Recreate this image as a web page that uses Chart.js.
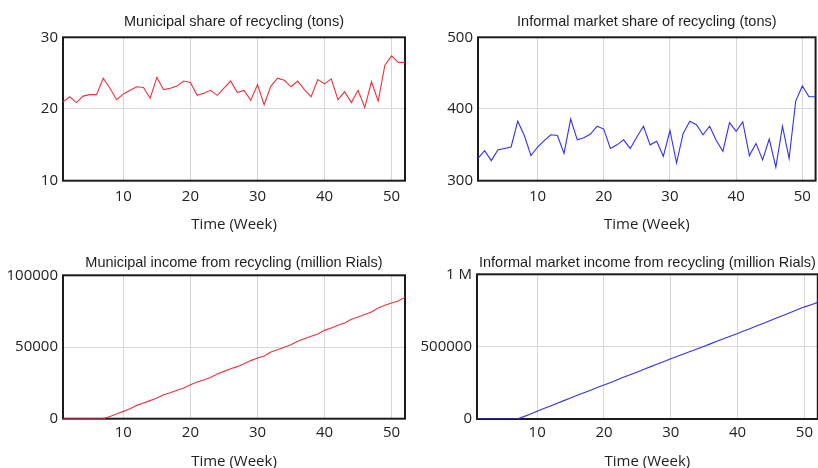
<!DOCTYPE html>
<html>
<head>
<meta charset="utf-8">
<script src="https://cdn.jsdelivr.net/npm/chart.js@4.4.1/dist/chart.umd.min.js"></script>
<style>
html, body { margin: 0; padding: 0; background: #fff; overflow: hidden; width: 818px; height: 468px; }
.panel { position: absolute; }
</style>
</head>
<body>
<script>
const weeks = [1, 2, 3, 4, 5, 6, 7, 8, 9, 10, 11, 12, 13, 14, 15, 16, 17, 18, 19, 20,
    21, 22, 23, 24, 25, 26, 27, 28, 29, 30, 31, 32, 33, 34, 35, 36, 37, 38, 39, 40,
    41, 42, 43, 44, 45, 46, 47, 48, 49, 50, 51, 52];
const xTicks = [10, 20, 30, 40, 50];

const municipalShare = [21.0, 21.7, 20.9, 21.8, 22.0, 22.0, 24.3, 22.9, 21.3, 22.1,
    22.6, 23.1, 23.0, 21.5, 24.4, 22.7, 22.9, 23.2, 23.9, 23.7,
    21.9, 22.2, 22.6, 21.9, 22.9, 23.9, 22.3, 22.6, 21.2, 23.4,
    20.6, 23.2, 24.3, 24.0, 23.1, 23.9, 22.7, 21.7, 24.1, 23.5,
    24.2, 21.3, 22.4, 20.9, 22.6, 20.2, 23.8, 21.1, 26.1, 27.4,
    26.5, 26.5];
const informalShare = [331, 342, 328, 343, 345, 347, 383, 363, 335, 347,
    356, 364, 363, 338, 386, 357, 360, 365, 376, 372,
    345, 350, 357, 345, 361, 376, 350, 355, 334, 370,
    325, 366, 383, 378, 364, 376, 356, 341, 381, 369,
    382, 335, 352, 329, 358, 319, 376, 331, 411, 432,
    417, 417];
const municipalIncome = [0, 0, 0, 0, 0, 0, 0, 1600, 3300, 5100,
    7000, 9300, 10900, 12600, 14400, 16700, 18100, 19800, 21400, 23700,
    25600, 27000, 28800, 31200, 33000, 34900, 36300, 38400, 40500, 42300,
    43700, 46500, 48100, 49800, 51600, 54000, 55800, 57500, 59100, 61600,
    63300, 65100, 66800, 69300, 70900, 72600, 74400, 77200, 79100, 80700,
    82100, 84700];
const informalIncome = [0, 0, 0, 0, 0, 0, 0, 16500, 35000, 54000,
    72000, 90500, 109000, 127000, 145000, 163500, 181000, 199000, 217000, 235000,
    253000, 271000, 289500, 307000, 325000, 343500, 362000, 380000, 397500, 416000,
    433500, 451000, 468500, 486000, 503500, 521000, 538500, 556000, 573500, 591000,
    609500, 627500, 646000, 664000, 682500, 701000, 719000, 737500, 756000, 775000,
    790000, 806000];

const shareTicks = [10, 20, 30];
const informalShareTicks = [300, 400, 500];
const municipalIncomeTicks = [0, 50000, 100000];
const informalIncomeTicks = [0, 500000, 1000000];

const RED = 'rgb(235, 50, 60)';
const BLUE = 'rgb(50, 50, 235)';

Chart.defaults.font.family = "'Open Sans', 'Noto Sans', sans-serif";

// black frame round the plot area, drawn under the line
const frame = {
    id: 'frame',
    beforeDatasetsDraw(chart) {
        const { ctx, chartArea: a } = chart;
        ctx.save();
        ctx.strokeStyle = '#1c1c1c';
        ctx.lineWidth = 2;
        ctx.strokeRect(a.left, a.top, a.right - a.left, a.bottom - a.top);
        ctx.restore();
    }
};

// plot = [left, top, right, bottom] in page pixels
const panels = [
    { title: 'Municipal share of recycling (tons)', values: municipalShare, yTicks: shareTicks, color: RED,
      left: 0, top: 0, width: 410, height: 240, plot: [63, 37.3, 405, 180.7], titleY: 21.5, tickPad: 7, axisTitleY: 225 },
    { title: 'Informal market share of recycling (tons)', values: informalShare, yTicks: informalShareTicks, color: BLUE,
      left: 408, top: 0, width: 410, height: 240, plot: [478, 37.3, 818, 180.7], titleY: 21.5, tickPad: 7, axisTitleY: 224.5 },
    { title: 'Municipal income from recycling (million Rials)', values: municipalIncome, yTicks: municipalIncomeTicks, color: RED,
      left: 0, top: 240, width: 410, height: 234, plot: [63, 275.3, 405, 418.7], titleY: 262.7, tickPad: 5.3, axisTitleY: 462 },
    { title: 'Informal market income from recycling (million Rials)', values: informalIncome, yTicks: informalIncomeTicks, color: BLUE,
      left: 408, top: 240, width: 410, height: 234, plot: [477, 274.3, 818, 419], titleY: 262.7, tickPad: 5, axisTitleY: 462 }
];

function yLabel(v) {
    return v === 1000000 ? '1 M' : String(v);
}

function makeChart(p) {
    const box = document.createElement('div');
    box.className = 'panel';
    box.style.left = p.left + 'px';
    box.style.top = p.top + 'px';
    box.style.width = p.width + 'px';
    box.style.height = p.height + 'px';
    document.body.appendChild(box);
    const canvas = document.createElement('canvas');
    box.appendChild(canvas);

    const titleSize = 14.5;
    const titleLH = titleSize * 1.2;
    const axisLH = 15 * 1.2;

    return new Chart(canvas, {
        type: 'line',
        data: {
            datasets: [{
                data: weeks.map((w, i) => ({ x: w, y: p.values[i] })),
                borderColor: p.color,
                borderWidth: 1.1,
                pointRadius: 0,
                tension: 0
            }]
        },
        options: {
            responsive: true,
            maintainAspectRatio: false,
            animation: false,
            layout: { padding: { left: 0, top: 0, bottom: 0, right: p.left + p.width - p.plot[2] } },
            plugins: {
                legend: { display: false },
                tooltip: { enabled: false },
                title: {
                    display: true,
                    text: p.title,
                    fullSize: false,
                    color: '#1e1e1e',
                    font: { family: "'Liberation Sans', Arial, sans-serif", size: titleSize, weight: 'normal' },
                    padding: { top: p.titleY - p.top - titleLH / 2, bottom: p.plot[1] - p.titleY - titleLH / 2 }
                }
            },
            scales: {
                x: {
                    type: 'linear',
                    min: 1,
                    max: 52,
                    afterBuildTicks: s => { s.ticks = xTicks.map(v => ({ value: v })); },
                    afterFit: s => { s.height = p.top + p.height - p.plot[3]; },
                    grid: { color: '#d6d6d6', drawTicks: false },
                    border: { display: false },
                    ticks: { padding: p.tickPad, color: '#222', font: { size: 15 }, maxRotation: 0, autoSkip: false },
                    title: {
                        display: true,
                        text: 'Time (Week)',
                        color: '#222',
                        font: { size: 15 },
                        padding: { top: 0, bottom: p.top + p.height - p.axisTitleY - axisLH / 2 }
                    }
                },
                y: {
                    type: 'linear',
                    min: p.yTicks[0],
                    max: p.yTicks[p.yTicks.length - 1],
                    afterBuildTicks: s => { s.ticks = p.yTicks.map(v => ({ value: v })); },
                    afterFit: s => { s.width = p.plot[0] - p.left; },
                    grid: { color: '#d6d6d6', drawTicks: false },
                    border: { display: false },
                    ticks: { padding: 5, color: '#222', font: { size: 15 }, callback: v => yLabel(v) }
                }
            }
        },
        plugins: [frame]
    });
}

panels.forEach(makeChart);
</script>
</body>
</html>
